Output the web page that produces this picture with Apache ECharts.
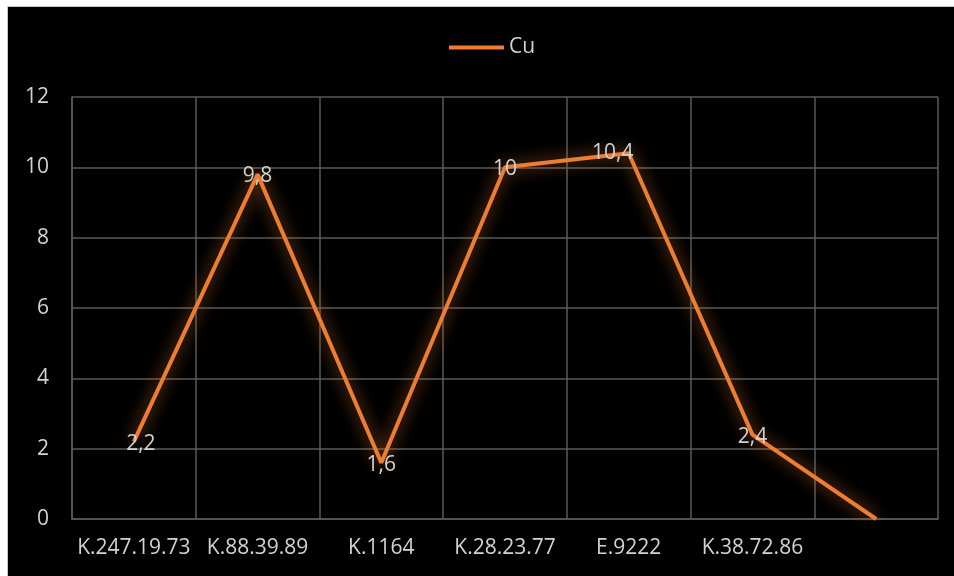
<!DOCTYPE html>
<html>
<head>
<meta charset="utf-8">
<script src="https://cdn.jsdelivr.net/npm/echarts@6/dist/echarts.min.js"></script>
<style>
  html, body { margin: 0; padding: 0; background: #ffffff; }
  #chart {
    position: absolute; left: 7px; top: 6px;
    width: 946px; height: 569px;
    border-left: 1px solid #c8c8c8; border-top: 1px solid #c8c8c8;
    background: #000000;
  }
</style>
</head>
<body>
<div id="chart"></div>
<script>
// Sample identifiers along the x axis (last slot has no name)
const categories = ['K.247.19.73', 'K.88.39.89', 'K.1164', 'K.28.23.77', 'E.9222', 'K.38.72.86', ''];
// Copper content per sample
const cuValues = [2.2, 9.8, 1.6, 10, 10.4, 2.4, 0];
// Value axis ticks
const yTicks = { min: 0, max: 12, interval: 2 };

// Small nudges for the value labels so they don't sit on the line
const labelNudge = [[7, 2], [0, 2], [0, 2], [0, 2], [-16, 0], [0, 2], [0, 0]];

const textColor = '#d2d2d2';
const gridColor = '#5a5a5a';
const lineColor = '#ED7D31';
const fontFamily = '"Open Sans", sans-serif';
const fontSize = 21;

const seriesData = cuValues.map((v, i) => ({
  value: v,
  label: { offset: labelNudge[i] }
}));

const chart = echarts.init(document.getElementById('chart'));
chart.setOption({
  backgroundColor: '#000000',
  animation: false,
  textStyle: { fontFamily: fontFamily },
  legend: {
    data: ['Cu'],
    left: 436,
    top: 25,
    icon: 'rect',
    itemWidth: 55,
    itemHeight: 4,
    itemGap: 5,
    textStyle: { color: textColor, fontSize: fontSize, fontFamily: fontFamily }
  },
  grid: { left: 64, right: 16, top: 90, bottom: 57, containLabel: false },
  xAxis: {
    type: 'category',
    data: categories,
    boundaryGap: true,
    axisLine: { show: true, lineStyle: { color: gridColor, width: 1.5 } },
    axisTick: { show: false },
    splitLine: { show: true, lineStyle: { color: gridColor, width: 1.5 } },
    axisLabel: { color: textColor, fontSize: fontSize, margin: 19, interval: 0, fontFamily: fontFamily }
  },
  yAxis: {
    type: 'value',
    min: yTicks.min,
    max: yTicks.max,
    interval: yTicks.interval,
    axisLine: { show: true, lineStyle: { color: gridColor, width: 1.5 } },
    axisTick: { show: false },
    splitLine: { show: true, lineStyle: { color: gridColor, width: 1.5 } },
    axisLabel: { color: textColor, fontSize: fontSize, margin: 23, fontFamily: fontFamily }
  },
  series: [{
    name: 'Cu',
    type: 'line',
    data: seriesData,
    symbol: 'circle',
    symbolSize: 0.1,
    showSymbol: true,
    color: lineColor,
    itemStyle: { color: lineColor },
    lineStyle: {
      color: lineColor,
      width: 4,
      shadowColor: 'rgba(237,125,49,0.8)',
      shadowBlur: 16
    },
    label: {
      show: true,
      position: 'inside',
      color: textColor,
      fontSize: fontSize,
      fontFamily: fontFamily,
      formatter: p => (p.value === 0 ? '' : String(p.value).replace('.', ','))
    }
  }]
});
</script>
</body>
</html>
